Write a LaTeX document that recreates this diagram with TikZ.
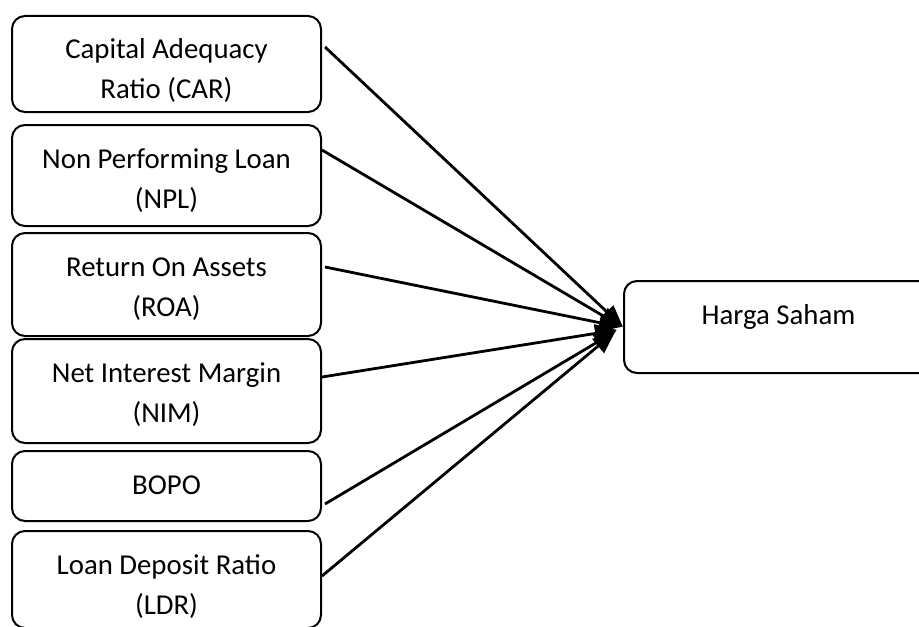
\documentclass[tikz,border=0pt]{standalone}
\usepackage{fontspec}
\setmainfont{Carlito}
\usepackage{tikz}
\usetikzlibrary{arrows.meta}

\tikzset{
  ratio/.style={draw, line width=1pt, rounded corners=6.5pt, anchor=north west,
    minimum width=154.5pt, inner sep=0pt, text height=21.5pt,
    font=\fontsize{14.4}{20}\selectfont},
  feed/.style={-{Triangle[length=11pt,width=9pt]}, line width=1.4pt}
}
\newcommand{\boxtext}[1]{\parbox[t]{150pt}{\centering #1}}

\begin{document}
\begin{tikzpicture}[x=0.5pt,y=-0.5pt]
   \useasboundingbox (0,0) rectangle (919,626);
   \draw (11,15) node[ratio,text depth=26.5pt] (car) {\boxtext{Capital Adequacy\\Ratio (CAR)}};
   \draw (11,124) node[ratio,text depth=29pt] (npl) {\boxtext{Non Performing Loan\\(NPL)}};
   \draw (11,232) node[ratio,text depth=30pt] (roa) {\boxtext{Return On Assets\\(ROA)}};
   \draw (11,338) node[ratio,text depth=30.5pt] (nim) {\boxtext{Net Interest Margin\\(NIM)}};
   \draw (11,450) node[ratio,text depth=13.5pt] (bopo) {\boxtext{BOPO}};
   \draw (11,530) node[ratio,text depth=27pt] (ldr) {\boxtext{Loan Deposit Ratio\\(LDR)}};
   \draw (623,280) node[ratio,text depth=24.5pt] (harga) {\boxtext{Harga Saham}};

      \path[feed] ([xshift=1.5pt,yshift=-16pt]car.north east) edge (harga.west);
      \path[feed] ([yshift=-13pt]npl.north east) edge ([xshift=-0.5pt]harga.west);
      \path[feed] ([xshift=1.5pt,yshift=-17.5pt]roa.north east) edge ([xshift=-1pt]harga.west);
      \path[feed] ([yshift=-19.5pt]nim.north east) edge ([xshift=-3pt,yshift=-1.5pt]harga.west);
      \path[feed] ([xshift=1.5pt,yshift=-27pt]bopo.north east) edge ([xshift=-3.5pt,yshift=-2pt]harga.west);
      \path[feed] ([yshift=-23pt]ldr.north east) edge ([xshift=-4pt,yshift=-2.5pt]harga.west);

\end{tikzpicture}
\end{document}
